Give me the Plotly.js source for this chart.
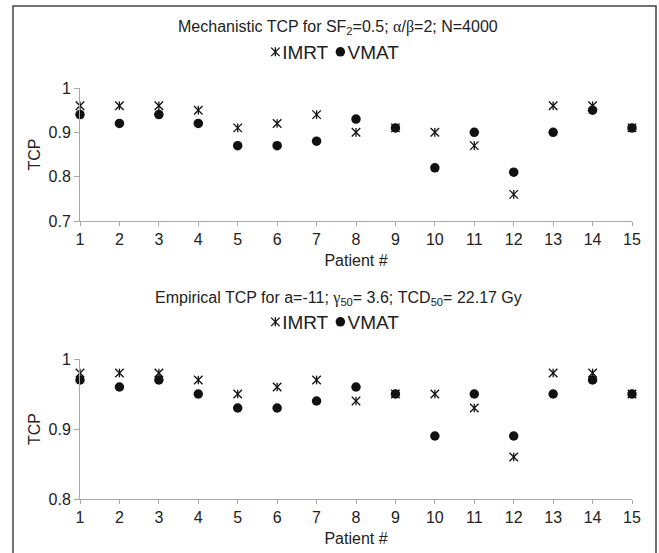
<!DOCTYPE html>
<html><head><meta charset="utf-8">
<script src="https://cdn.plot.ly/plotly-3.0.1.min.js"></script>
<style>html,body{margin:0;padding:0;background:#fff}</style>
</head><body>
<div id="chart" style="width:659px;height:553px"></div>
<script>
const patients = [1,2,3,4,5,6,7,8,9,10,11,12,13,14,15];
const mechIMRT = [0.96,0.96,0.96,0.95,0.91,0.92,0.94,0.90,0.91,0.90,0.87,0.76,0.96,0.96,0.91];
const mechVMAT = [0.94,0.92,0.94,0.92,0.87,0.87,0.88,0.93,0.91,0.82,0.90,0.81,0.90,0.95,0.91];
const empIMRT  = [0.98,0.98,0.98,0.97,0.95,0.96,0.97,0.94,0.95,0.95,0.93,0.86,0.98,0.98,0.95];
const empVMAT  = [0.97,0.96,0.97,0.95,0.93,0.93,0.94,0.96,0.95,0.89,0.95,0.89,0.95,0.97,0.95];
const xTicks = patients;
const topTitle = 'Mechanistic TCP for SF<sub>2</sub>=0.5; <span style="font-family:Liberation Serif">α</span>/<span style="font-family:Liberation Serif">β</span>=2; N=4000';
const botTitle = 'Empirical TCP for a=-11; <span style="font-family:Liberation Serif">γ</span><sub>50</sub>= 3.6; TCD<sub>50</sub>= 22.17 Gy';

const W = 659, H = 553;
const px = v => v / W, py = v => 1 - v / H;
const fam = 'Liberation Sans, Arial, sans-serif';
const font = {family: fam, size: 16, color: '#222'};
const legFont = {family: fam, size: 19, color: '#222'};
const axColor = '#a8a8a8';

function series(xa, ya, legend, imrt, vmat) {
  return [
    {x: patients, y: imrt, xaxis: xa, yaxis: ya, legend: legend, type: 'scatter', mode: 'markers', name: 'IMRT', cliponaxis: false,
     marker: {symbol: 'x-thin-open', size: 8.5, color: '#111', line: {width: 1.3, color: '#111'}}},
    {x: patients, y: imrt, xaxis: xa, yaxis: ya, legend: legend, type: 'scatter', mode: 'markers', name: 'IMRT', showlegend: false, cliponaxis: false,
     marker: {symbol: 'line-ns-open', size: 6.2, color: '#111', line: {width: 1.3, color: '#111'}}},
    {x: patients, y: vmat, xaxis: xa, yaxis: ya, legend: legend, type: 'scatter', mode: 'markers', name: 'VMAT', cliponaxis: false,
     marker: {symbol: 'circle', size: 9.5, color: '#111'}}
  ];
}

const data = [].concat(series('x', 'y', 'legend', mechIMRT, mechVMAT), series('x2', 'y2', 'legend2', empIMRT, empVMAT));

function xaxis(anchor) {
  return {anchor: anchor, domain: [px(80), px(632)], range: [1, 15], tickvals: xTicks, ticks: 'outside', ticklen: 4,
    tickcolor: axColor, showline: true, linecolor: axColor, linewidth: 1, showgrid: false, zeroline: false,
    tickfont: font, title: {text: 'Patient #', font: font, standoff: 7}};
}
function yaxis(anchor, domain, range) {
  return {anchor: anchor, domain: domain, range: range, dtick: 0.1, tick0: 0, ticks: 'outside', ticklen: 5,
    tickcolor: axColor, showline: true, linecolor: axColor, linewidth: 1, showgrid: false, zeroline: false,
    tickfont: font, title: {text: 'TCP', font: font, standoff: 3}};
}

const legendBase = {orientation: 'h', xanchor: 'center', yanchor: 'middle', font: legFont, itemwidth: 30,
  bgcolor: 'rgba(0,0,0,0)', tracegroupgap: 0, itemclick: false};

const layout = {
  width: W, height: H, margin: {l: 0, r: 0, t: 0, b: 0},
  paper_bgcolor: '#fff', plot_bgcolor: '#fff', font: font, showlegend: true,
  xaxis: xaxis('y'), yaxis: yaxis('x', [py(221), py(88)], [0.7, 1]),
  xaxis2: xaxis('y2'), yaxis2: yaxis('x2', [py(499), py(359)], [0.8, 1]),
  legend: Object.assign({}, legendBase, {x: px(335), y: py(52)}),
  legend2: Object.assign({}, legendBase, {x: px(335), y: py(322)}),
  annotations: [
    {text: topTitle, xref: 'paper', yref: 'paper', x: px(338), y: py(27), showarrow: false, font: font, xanchor: 'center', yanchor: 'middle'},
    {text: botTitle, xref: 'paper', yref: 'paper', x: px(338), y: py(298), showarrow: false, font: font, xanchor: 'center', yanchor: 'middle'}
  ],
  shapes: [
    {type: 'path', xref: 'paper', yref: 'paper',
     path: `M ${px(13)} -0.05 L ${px(13)} ${py(6)} L ${px(656)} ${py(6)} L ${px(656)} -0.05`,
     line: {color: '#444', width: 1.5}}
  ]
};

function parseT(tr) {
  const m = /translate\(\s*([-\d.e]+)[ ,]+([-\d.e]+)/.exec(tr.getAttribute('transform') || '');
  return m ? [parseFloat(m[1]), parseFloat(m[2])] : [0, 0];
}

Plotly.newPlot('chart', data, layout, {displayModeBar: false, staticPlot: true}).then(gd => {
  // compact the legends: symbol right next to its text, as in the reference
  const allTraces = Array.from(gd.querySelectorAll('g.traces'));
  const groups = new Map();
  allTraces.forEach(tr => {
    let leg = tr.parentNode;
    while (leg && leg !== gd && !/legend/.test(leg.getAttribute && (leg.getAttribute('class') || '')) ) leg = leg.parentNode;
    // group by nearest legend-like ancestor; fallback: the scrollbox parent
    const key = tr.parentNode;
    if (!groups.has(key)) groups.set(key, []);
    groups.get(key).push(tr);
  });
  groups.forEach(traces => {
    traces = traces.filter(tr => tr.querySelector('g.legendpoints') && tr.querySelector('text'));
    if (!traces.length) return;
    let x = null;
    traces.forEach((tr, i) => {
      const pts = tr.querySelector('g.legendpoints');
      const txt = tr.querySelector('text');
      if (i === 0) {
        const p = tr.querySelector('path.scatterpts');
        if (p) {
          const c = p.cloneNode(true);
          c.setAttribute('d', 'M0,4.5V-4.5');
          p.parentNode.appendChild(c);
        }
      }
      const pb = pts.getBBox();
      const t = parseT(tr);
      if (x === null) x = t[0];
      tr.setAttribute('transform', `translate(${x - pb.x},${t[1]})`);
      const tx = pb.x + pb.width + 2.5;
      txt.setAttribute('x', tx);
      txt.querySelectorAll('tspan').forEach(s => { if (s.hasAttribute('x')) s.setAttribute('x', tx); });
      const tb = txt.getBBox();
      x = x - pb.x + tb.x + tb.width + 7;
    });
    let minX = Infinity, maxX = -Infinity;
    traces.forEach(tr => { const r = tr.getBoundingClientRect(); minX = Math.min(minX, r.left); maxX = Math.max(maxX, r.right); });
    const gr = gd.getBoundingClientRect();
    const delta = 335 - ((minX + maxX) / 2 - gr.left);
    traces.forEach(tr => { const t = parseT(tr); tr.setAttribute('transform', `translate(${t[0] + delta},${t[1]})`); });
  });
});
</script>
</body></html>
